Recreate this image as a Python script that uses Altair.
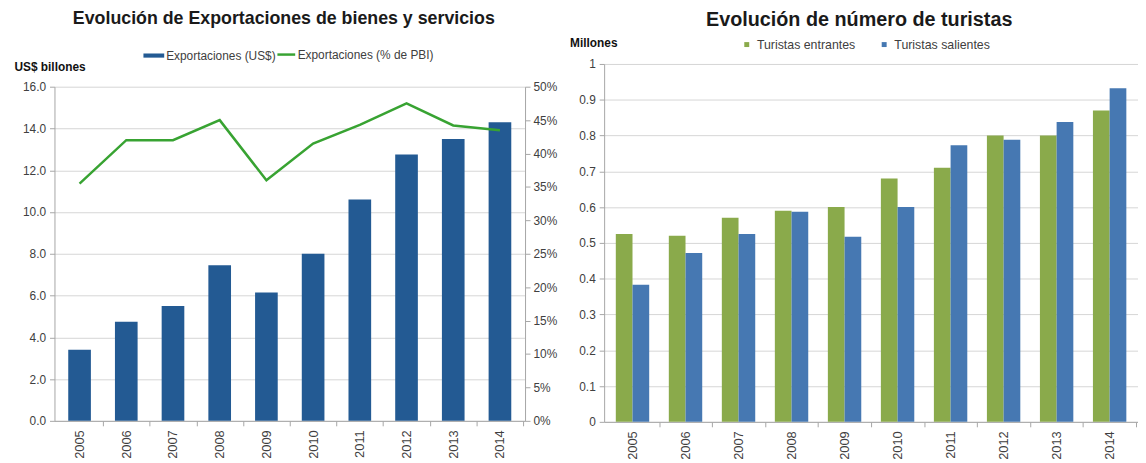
import altair as alt
import pandas as pd

# ---------------- data ----------------
years = ["2005", "2006", "2007", "2008", "2009", "2010", "2011", "2012", "2013", "2014"]
export_usd = [3.4, 4.75, 5.5, 7.45, 6.15, 8.0, 10.6, 12.75, 13.5, 14.3]
export_pct = [35.5, 42.0, 42.0, 45.0, 36.0, 41.5, 44.3, 47.5, 44.2, 43.5]
tourists_in = [0.525, 0.52, 0.57, 0.59, 0.60, 0.68, 0.71, 0.80, 0.80, 0.87]
tourists_out = [0.383, 0.472, 0.525, 0.587, 0.517, 0.60, 0.773, 0.788, 0.838, 0.932]

series_left = ["Exportaciones (US$)", "Exportaciones (% de PBI)"]
series_right = ["Turistas entrantes", "Turistas salientes"]

left_ticks = [0, 2, 4, 6, 8, 10, 12, 14, 16]
pct_ticks = [0, 0.05, 0.10, 0.15, 0.20, 0.25, 0.30, 0.35, 0.40, 0.45, 0.50]
right_ticks = [0, 0.1, 0.2, 0.3, 0.4, 0.5, 0.6, 0.7, 0.8, 0.9, 1.0]

# ---------------- style ----------------
BLUE_DARK = "#235A93"
GREEN_LINE = "#38A332"
GREEN = "#8AAA4B"
BLUE = "#4678B2"
TEXT = "#404040"
GRID = "#D6D6D6"
AXIS = "#A6A6A6"
FONT = "Liberation Sans"

W1, H1 = 476, 361      # left plot: top 23px kept empty (values start at 23)
TOP1 = 23
W2, H2 = 540, 362
PI1, PO1 = 0.515, 0.295
PI2, PO2 = 0.37, 0.22
STEP1 = W1 / (10 - PI1 + 2 * PO1)
STEP2 = W2 / (10 - PI2 + 2 * PO2)

df1 = pd.DataFrame({
    "year": years,
    "usd": export_usd,
    "pct": [p / 100 for p in export_pct],
    "s_bar": series_left[0],
    "s_line": series_left[1],
})

rows = []
for y, a, b in zip(years, tourists_in, tourists_out):
    rows.append({"year": y, "serie": series_right[0], "value": a})
    rows.append({"year": y, "serie": series_right[1], "value": b})
df2 = pd.DataFrame(rows)

# ---------------- left chart ----------------
x1 = alt.X(
    "year:N", title=None,
    scale=alt.Scale(paddingInner=PI1, paddingOuter=PO1),
    axis=alt.Axis(labelAngle=-90, tickOffset=STEP1 / 2, labelOffset=-STEP1 / 2,
                  tickSize=5, labelPadding=4, labelFontSize=13),
)

bars1 = alt.Chart(df1).mark_bar().encode(
    x=x1,
    y=alt.Y("usd:Q", scale=alt.Scale(domain=[0, 16], nice=False, range=[H1, TOP1]),
            axis=alt.Axis(values=left_ticks, format=".1f", title="US$ billones",
                          titleAngle=0, titleX=-41, titleY=TOP1 - 20, titleAlign="left",
                          titleBaseline="middle", titleFontWeight="bold",
                          titleFontSize=12, titleColor="#111111", grid=True,
                          tickSize=5, labelPadding=4, labelFontSize=12)),
    color=alt.Color("s_bar:N", scale=alt.Scale(domain=[series_left[0]], range=[BLUE_DARK]),
                    legend=alt.Legend(orient="none", legendX=89, legendY=-20, title=None,
                                      symbolType="M-1,-0.2H1V0.2H-1Z", symbolSize=441,
                                      labelFontSize=12, labelOffset=1)),
)

line1 = alt.Chart(df1).mark_line(strokeWidth=2.5).encode(
    x=x1,
    y=alt.Y("pct:Q", scale=alt.Scale(domain=[0, 0.5], nice=False, range=[H1, TOP1]),
            axis=alt.Axis(orient="right", values=pct_ticks, format=".0%", title=None,
                          grid=False, tickSize=5, labelPadding=3, labelFontSize=12)),
    stroke=alt.Stroke("s_line:N", scale=alt.Scale(domain=[series_left[1]], range=[GREEN_LINE]),
                      legend=alt.Legend(orient="none", legendX=224, legendY=-20, title=None,
                                        symbolType="stroke", symbolSize=324,
                                        symbolStrokeWidth=2.5, labelFontSize=12,
                                        labelOffset=1)),
)

left = alt.layer(bars1, line1).resolve_scale(
    y="independent", color="independent", stroke="independent"
).properties(
    width=W1, height=H1,
    title=alt.TitleParams("Evolución de Exportaciones de bienes y servicios",
                          fontSize=18, font=FONT, fontWeight="bold", color="#1a1a1a",
                          anchor="middle", offset=16, dx=-6),
)

# ---------------- right chart ----------------
right = alt.Chart(df2).mark_bar().encode(
    x=alt.X("year:N", title=None,
            scale=alt.Scale(paddingInner=PI2, paddingOuter=PO2),
            axis=alt.Axis(labelAngle=-90, tickOffset=STEP2 / 2, labelOffset=-STEP2 / 2,
                          tickSize=5, labelPadding=4, labelFontSize=13)),
    xOffset=alt.XOffset("serie:N", sort=series_right, scale=alt.Scale(paddingInner=0)),
    y=alt.Y("value:Q", scale=alt.Scale(domain=[0, 1], nice=False),
            axis=alt.Axis(values=right_ticks, format="~g", title="Millones",
                          titleAngle=0, titleX=-35, titleY=-22, titleAlign="left",
                          titleBaseline="middle", titleFontWeight="bold",
                          titleFontSize=12, titleColor="#111111", grid=True,
                          tickSize=5, labelPadding=4, labelFontSize=12)),
    color=alt.Color("serie:N", sort=series_right,
                    scale=alt.Scale(domain=series_right, range=[GREEN, BLUE]),
                    legend=alt.Legend(orient="none", legendX=138, legendY=-26, title=None,
                                      direction="horizontal", symbolType="square",
                                      symbolSize=25, columnPadding=22,
                                      labelFontSize=12.5, labelOffset=4)),
).properties(
    width=W2, height=H2,
    title=alt.TitleParams("Evolución de número de turistas",
                          fontSize=20, font=FONT, fontWeight="bold", color="#1a1a1a",
                          anchor="middle", offset=6, dx=-12),
)

chart = alt.hconcat(left, right, spacing=12).resolve_scale(
    color="independent", stroke="independent"
).resolve_legend(
    color="independent", stroke="independent"
).properties(
    padding={"left": 6, "top": 0, "right": 0, "bottom": 0}
).configure_view(stroke=None).configure_axis(
    labelFont=FONT, titleFont=FONT, labelColor=TEXT,
    domainColor=AXIS, tickColor=AXIS, gridColor=GRID, gridWidth=1,
).configure_legend(
    labelFont=FONT, labelColor=TEXT,
)

chart.save("out.html", embed_options={"renderer": "svg", "actions": False})
